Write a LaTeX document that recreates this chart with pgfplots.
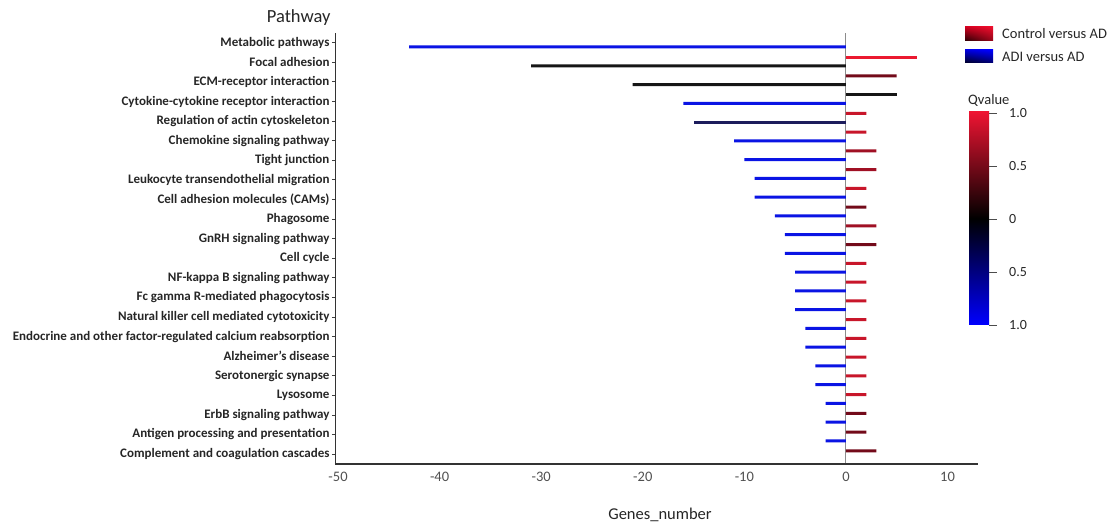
\documentclass[border=0pt]{standalone}
\usepackage{fontspec}
\setmainfont{Carlito}
\usepackage{pgfplots}
\pgfplotsset{compat=1.18}
\usetikzlibrary{shadings}
\definecolor{cbblue}{RGB}{10,20,228}
\definecolor{cbnavy}{RGB}{28,28,92}
\definecolor{cbblack}{RGB}{22,22,22}
\definecolor{cbbright}{RGB}{235,25,48}
\definecolor{cbmed}{RGB}{200,22,42}
\definecolor{cbdark}{RGB}{160,16,36}
\definecolor{cbmaroon}{RGB}{115,10,26}
\definecolor{axgray}{RGB}{80,80,80}
\definecolor{lr1}{RGB}{205,0,30}
\definecolor{lr2}{RGB}{235,15,45}
\definecolor{lr3}{RGB}{40,0,5}
\definecolor{lr4}{RGB}{150,5,25}
\definecolor{lb1}{RGB}{0,0,220}
\definecolor{lb2}{RGB}{0,0,255}
\definecolor{lb3}{RGB}{0,0,35}
\definecolor{lb4}{RGB}{0,0,110}
\definecolor{qred}{RGB}{238,20,50}
\definecolor{qblue}{RGB}{0,0,255}
\begin{document}
\begin{tikzpicture}
\useasboundingbox (0,0) rectangle (1112pt,528pt);
\begin{axis}[
  at={(335pt,64pt)}, anchor=south west,
  scale only axis, width=643pt, height=431pt,
  xmin=-50.3, xmax=13, ymin=-0.96, ymax=22.013,
  enlargelimits=false, clip=false,
  axis line style={draw=none},
  xtick={-50,-40,-30,-20,-10,0,10},
  xticklabels={-50,-40,-30,-20,-10,0,10},
  xtick style={draw=none},
  xticklabel style={font=\fontsize{14.5}{15}\selectfont, text=axgray, yshift=-2pt},
  ytick={-0.432,0.612,1.656,2.700,3.745,4.789,5.833,6.877,7.921,8.966,10.010,11.054,12.098,13.142,14.187,15.231,16.275,17.319,18.363,19.408,20.452,21.496},
  yticklabels={Complement and coagulation cascades,Antigen processing and presentation,ErbB signaling pathway,Lysosome,Serotonergic synapse,Alzheimer's disease,Endocrine and other factor-regulated calcium reabsorption,Natural killer cell mediated cytotoxicity,Fc gamma R-mediated phagocytosis,NF-kappa B signaling pathway,Cell cycle,GnRH signaling pathway,Phagosome,Cell adhesion molecules (CAMs),Leukocyte transendothelial migration,Tight junction,Chemokine signaling pathway,Regulation of actin cytoskeleton,Cytokine-cytokine receptor interaction,ECM-receptor interaction,Focal adhesion,Metabolic pathways},
  ytick pos=left, tick align=outside, major tick length=3pt,
  ytick style={draw=black!75, line width=0.8pt},
  yticklabel style={font=\bfseries\fontsize{13}{13.5}\selectfont, text=black!85, xshift=1pt},
  xbar, bar width=3pt, bar shift=0pt,
]
\draw[black!45, line width=0.9pt] (axis cs:0,-0.96) -- (axis cs:0,22.013);
% ADI versus AD (negative)
\addplot[draw=none, fill=cbblue] coordinates {
(-43,21.267) (-16,18.267) (-11,16.267) (-10,15.267) (-9,14.267) (-9,13.267) (-7,12.267) (-6,11.267) (-6,10.267) (-5,9.267) (-5,8.267) (-5,7.267) (-4,6.267) (-4,5.267) (-3,4.267) (-3,3.267) (-2,2.267) (-2,1.267) (-2,0.267)};
\addplot[draw=none, fill=cbblack] coordinates {(-31,20.267) (-21,19.267)};
\addplot[draw=none, fill=cbnavy] coordinates {(-15,17.267)};
% Control versus AD (positive)
\addplot[draw=none, fill=cbbright] coordinates {(7,20.733)};
\addplot[draw=none, fill=cbmaroon] coordinates {(5,19.733) (2,12.733) (3,10.733) (2,1.733) (2,0.733) (3,-0.267)};
\addplot[draw=none, fill=cbblack] coordinates {(5,18.733)};
\addplot[draw=none, fill=cbmed] coordinates {(2,17.733) (2,16.733) (2,13.733) (2,9.733) (2,8.733) (2,7.733) (2,6.733) (2,5.733) (2,4.733) (2,3.733) (2,2.733)};
\addplot[draw=none, fill=cbdark] coordinates {(3,15.733) (3,14.733) (3,11.733)};
\draw[black!80, line width=0.8pt] (axis description cs:0,0) -- (axis description cs:0,1);
\draw[black!80, line width=1.8pt] (axis description cs:0,0) -- (axis description cs:1,0);
\end{axis}
% titles
\node[anchor=east, font=\fontsize{18.5}{19}\selectfont, text=black!85] at (334pt,510pt) {Pathway};
\node[font=\fontsize{16.5}{17}\selectfont, text=black!85] at (660pt,13pt) {Genes\_number};
% legend
\shade[upper left=lr1, upper right=lr2, lower left=lr3, lower right=lr4] (965pt,487pt) rectangle (993pt,501pt);
\shade[upper left=lb1, upper right=lb2, lower left=lb3, lower right=lb4] (965pt,465pt) rectangle (993pt,478pt);
\node[anchor=west, font=\fontsize{14.5}{15}\selectfont, text=black!85, inner sep=0pt] at (1002pt,494pt) {Control versus AD};
\node[anchor=west, font=\fontsize{14.5}{15}\selectfont, text=black!85, inner sep=0pt] at (1002pt,471pt) {ADI versus AD};
% colour scale
\node[anchor=west, font=\fontsize{14.5}{15}\selectfont, text=black!85, inner sep=0pt] at (968pt,428pt) {Qvalue};
\shade[top color=qred, bottom color=qblue, middle color=black] (969pt,203pt) rectangle (989pt,416pt);
\foreach \yy/\lab in {415/1.0,362/0.5,309/0,256/0.5,203/1.0}{
  \draw[black!70, line width=0.8pt] (989pt,\yy pt) -- (997pt,\yy pt);
  \node[anchor=west, font=\fontsize{14}{15}\selectfont, text=black!85, inner sep=0pt] at (1009pt,\yy pt) {\lab};
}
\end{tikzpicture}
\end{document}
